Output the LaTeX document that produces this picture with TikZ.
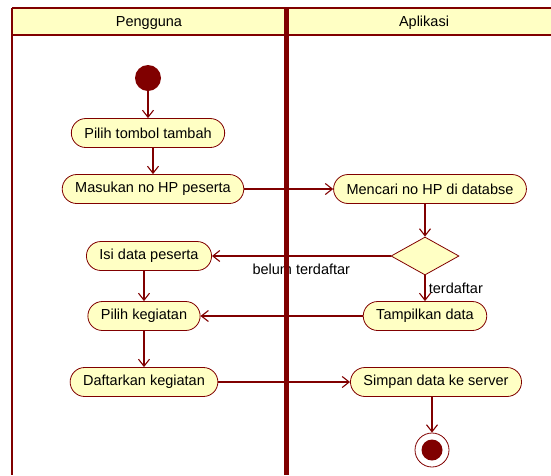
\documentclass[tikz,border=0pt]{standalone}
\usepackage{fontspec}
\setmainfont{Liberation Sans}
\usepackage{tikz}
\usetikzlibrary{shapes.geometric, arrows.meta}
\usetikzlibrary{positioning}
\definecolor{umlred}{RGB}{128,0,0}
\definecolor{umlyellow}{RGB}{255,255,196}
\tikzstyle{activity} = [rectangle, rounded corners=14.5pt, minimum height=29pt, inner xsep=13pt, text centered, draw=umlred, line width=0.8pt, fill=umlyellow]
\tikzstyle{decision} = [diamond, minimum width=68pt, minimum height=38pt, inner sep=0pt, draw=umlred, line width=0.8pt, fill=umlyellow]
\tikzstyle{startdot} = [circle, minimum size=26pt, inner sep=0pt, fill=umlred]
\tikzstyle{enddot} = [circle, minimum size=34pt, inner sep=0pt, draw=umlred, line width=0.8pt, fill=white, path picture={\fill[umlred] (path picture bounding box.center) circle (10.5pt);}]
\tikzstyle{arrow} = [draw=umlred, line width=1.1pt, -{Straight Barb[length=7pt,width=11pt]}]
\tikzstyle{lane} = [draw=umlred, line width=2.5pt]

\begin{document}
\begin{tikzpicture}[x=1pt, y=1pt, node distance=60pt, font=\fontsize{14.5}{17}\selectfont]

\useasboundingbox (0,0) rectangle (551,-475);

\fill [umlyellow] (12,-8) rectangle (551,-35);

\node (pengguna) at (149,-23) {Pengguna};

\node (aplikasi) at (424,-23) {Aplikasi};

\node (start) [startdot] at (148,-78) {};

\node (pilih1) [activity, below of=start, yshift=5pt] {Pilih tombol tambah};

\node (masukan) [activity, below of=pilih1, xshift=5pt, yshift=4pt] {Masukan no HP peserta};

\node (isi) [activity, below of=masukan, xshift=-4pt, yshift=-7pt] {Isi data peserta};

\node (kegiatan) [activity, below of=isi, xshift=-5pt] {Pilih kegiatan};

\node (daftar) [activity, below of=kegiatan, yshift=-6pt] {Daftarkan kegiatan};

\node (mencari) [activity, right of=masukan, xshift=217pt] {Mencari no HP di databse};

\node (cek) [decision, right of=isi, xshift=216pt] {};

\node (tampil) [activity, right of=kegiatan, xshift=221pt] {Tampilkan data};

\node (simpan) [activity, right of=daftar, xshift=232pt] {Simpan data ke server};

\node (end) [enddot, below of=simpan, xshift=-4pt, yshift=-8pt] {};


\draw [arrow] (start.south -| pilih1) -- (pilih1);
\draw [arrow] (pilih1.south -| masukan) -- (masukan);
\draw [arrow] (masukan) -- (mencari);
\draw [arrow] (mencari.south -| cek) -- (cek);
\draw [arrow] (cek) -- node[anchor=north, yshift=-4pt] {belum terdaftar} (isi);
\draw [arrow] (cek) -- node[anchor=west] {terdaftar} (tampil);
\draw [arrow] (isi.south -| kegiatan) -- (kegiatan);
\draw [arrow] (tampil) -- (kegiatan);
\draw [arrow] (kegiatan) -- (daftar);
\draw [arrow] (daftar) -- (simpan);
\draw [arrow] (simpan.south -| end) -- (end);

\draw [lane] (12,-8) -- (551,-8);
\draw [lane] (12,-35) -- (551,-35);
\draw [lane] (12,-8) -- (12,-475);
\draw [lane, line width=5pt] (286,-8) -- (286,-475);

\end{tikzpicture}
\end{document}
